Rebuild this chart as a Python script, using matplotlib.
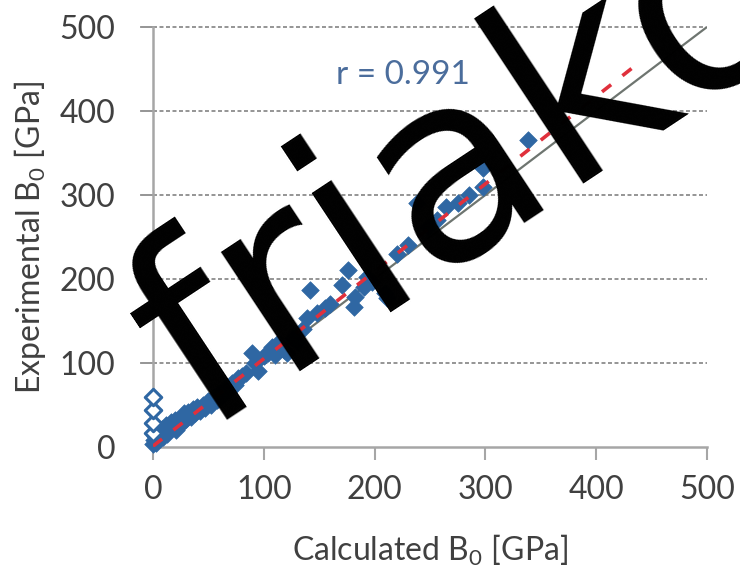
"""Experimental vs calculated bulk modulus B0, scatter with 1:1 and fit lines."""

import matplotlib
matplotlib.use("Agg")
import matplotlib.pyplot as plt

INK = "#404040"
AXIS = "#a6a6a6"
GRID = "#8c8c8c"
BLUE = "#2f67a3"
RED = "#e0303c"
R_TEXT = "#4b6d9c"

# filled diamonds: (calculated, experimental) in GPa
calc_filled = [0, 1, 2, 3, 4, 5, 6, 8, 9, 10, 12, 13, 15, 16, 18, 20, 21, 23,
               25, 27, 28, 30, 32, 34, 36, 38, 40, 42, 45, 47, 50, 52, 55, 58,
               60, 63, 66, 69, 71, 74, 77, 80, 84, 89, 92, 95, 100, 104, 107,
               110, 113, 118, 121, 126, 130, 135, 139, 142, 148, 155, 160, 171,
               176, 181, 182, 190, 193, 198, 209, 211, 220, 230, 238, 248, 256,
               264, 275, 285, 298, 298, 338]
exp_filled = [3, 8, 13, 5, 20, 10, 16, 22, 12, 18, 26, 15, 21, 30, 25, 32, 20,
              28, 35, 30, 40, 33, 42, 36, 45, 40, 48, 43, 50, 46, 55, 50, 60,
              56, 64, 62, 70, 68, 76, 74, 82, 85, 88, 112, 100, 90, 108, 112,
              119, 110, 124, 115, 112, 130, 125, 140, 154, 187, 160, 165, 170,
              193, 211, 167, 179, 190, 202, 196, 183, 177, 230, 240, 290, 262,
              270, 286, 290, 300, 310, 332, 365]

# open diamonds sitting on the x = 0 axis
calc_open = [0, 0, 0, 0]
exp_open = [17, 29, 44, 60]

# 1:1 line and linear fit
diag_x = [0, 500]
diag_y = [0, 500]
fit_x = [0, 440]
fit_y = [1, 459]

ticks = [0, 100, 200, 300, 400, 500]

plt.rcParams["font.family"] = ["Lato", "DejaVu Sans"]

fig = plt.figure(figsize=(7.4, 5.75), dpi=100)
ax = fig.add_axes([153 / 740, 128 / 575, 554 / 740, 420 / 575])

ax.set_xlim(0, 500)
ax.set_ylim(0, 500)
ax.set_xticks(ticks)
ax.set_yticks(ticks)

for y in ticks[1:]:
    ax.plot([0, 500], [y, y], color=GRID, lw=1.3, dashes=(2.2, 1.4),
            zorder=1, clip_on=False)
    ax.plot([-12 / 1.108, 0], [y, y], color=GRID, lw=1.3, zorder=1,
            clip_on=False)

ax.plot(diag_x, diag_y, color="#6e7570", lw=1.6, zorder=2)
ax.scatter(calc_filled, exp_filled, marker="D", s=80, color=BLUE,
           edgecolors=BLUE, linewidths=0.5, zorder=3, clip_on=False)
ax.scatter(calc_open, exp_open, marker="D", s=70, facecolors="white",
           edgecolors=BLUE, linewidths=2.2, zorder=3, clip_on=False)
ax.plot(fit_x, fit_y, color=RED, lw=2.6, dashes=(3.2, 4.0), zorder=4)

ax.text(226, 443, "r = 0.991", color=R_TEXT, fontsize=24,
        ha="center", va="center")

for side in ("top", "right"):
    ax.spines[side].set_visible(False)
for side in ("left", "bottom"):
    ax.spines[side].set_color(AXIS)
    ax.spines[side].set_linewidth(1.8)

ax.tick_params(axis="both", colors=INK, labelsize=23, direction="out")
ax.tick_params(axis="x", length=9, width=1.5, color=AXIS, pad=11)
ax.tick_params(axis="y", length=0, pad=27)

ax.set_xlabel("Calculated B$_\\mathregular{0}$ [GPa]", fontsize=23, color=INK)
ax.set_ylabel("Experimental B$_\\mathregular{0}$ [GPa]", fontsize=23, color=INK)
ax.xaxis.set_label_coords(0.5, -0.205)
ax.yaxis.set_label_coords(-0.19, 0.5)

# the big black overlay lettering
fig.text(203 / 740, 1 - 432 / 575, "friako", fontsize=188,
         color="black", family="DejaVu Sans", rotation=33.5,
         rotation_mode="anchor", ha="left", va="baseline", zorder=10)

fig.savefig("out.png", dpi=100)
